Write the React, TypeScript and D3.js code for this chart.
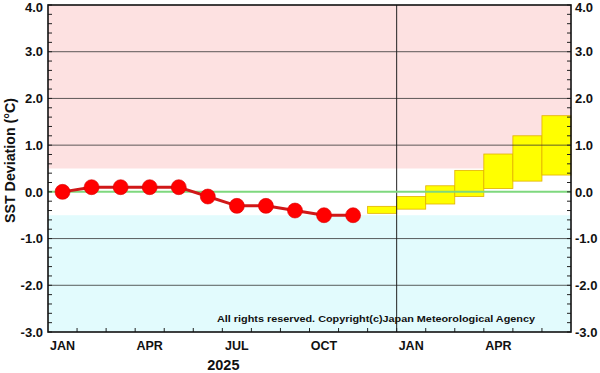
import React from 'react';
import { scaleLinear, line, range } from 'd3';

// months Jan 2025 .. Jun 2026
const monthNames = ['JAN', 'FEB', 'MAR', 'APR', 'MAY', 'JUN', 'JUL', 'AUG', 'SEP', 'OCT', 'NOV', 'DEC',
    'JAN', 'FEB', 'MAR', 'APR', 'MAY', 'JUN'];
const monthLabels = [0, 3, 6, 9, 12, 15];

// observed SST deviation (Jan..Nov 2025)
const observed = [0.0, 0.1, 0.1, 0.1, 0.1, -0.1, -0.3, -0.3, -0.4, -0.5, -0.5];

// forecast range Dec 2025 .. Jun 2026
const fcStart = 11;
const fcLow = [-0.46, -0.37, -0.26, -0.1, 0.07, 0.23, 0.36];
const fcHigh = [-0.31, -0.1, 0.13, 0.46, 0.81, 1.2, 1.63];

const yTicks = [4, 3, 2, 1, 0, -1, -2, -3];
const gridLines = [3, 2, 1, -1, -2];

const W = 600;
const H = 373;
const left = 48, right = 571, top = 5, bottom = 332;
const font = '"Liberation Sans", Arial, Helvetica, sans-serif';

export default function App() {
    const x = scaleLinear().domain([0, monthNames.length]).range([left, right]);
    const y = scaleLinear().domain([-3, 4]).range([bottom, top]);

    const obsLine = line<number>()
        .x((d, i) => x(i + 0.5))
        .y(d => y(d));

    const minor = range(-3, 4.001, 0.2).map(v => Math.round(v * 10) / 10);

    return (
        <svg width={W} height={H} style={{ position: 'absolute', left: 0, top: 0, background: '#fff' }}>
            {/* background bands */}
            <rect x={left} y={top} width={right - left} height={y(0.5) - top} fill="#fde1e1" />
            <rect x={left} y={y(-0.5)} width={right - left} height={bottom - y(-0.5)} fill="#e2fbfd" />

            {/* forecast boxes */}
            {fcLow.map((lo, i) => (
                <rect key={i}
                    x={x(fcStart + i)} width={x(1) - x(0)}
                    y={y(fcHigh[i])} height={y(lo) - y(fcHigh[i])}
                    fill="#ffff00" stroke="#e2b000" strokeWidth={0.8} />
            ))}

            {/* grid */}
            {gridLines.map(v => (
                <line key={v} x1={left} x2={right} y1={y(v)} y2={y(v)} stroke="#333" strokeWidth={0.8} />
            ))}
            <line x1={x(12)} x2={x(12)} y1={top} y2={bottom} stroke="#222" strokeWidth={1} />
            <line x1={left} x2={right} y1={y(0)} y2={y(0)} stroke="#7ed87e" strokeWidth={2} />

            {/* minor ticks */}
            {minor.map(v => (
                <g key={v}>
                    <line x1={left} x2={left + 4} y1={y(v)} y2={y(v)} stroke="#222" strokeWidth={1} />
                    <line x1={right - 4} x2={right} y1={y(v)} y2={y(v)} stroke="#222" strokeWidth={1} />
                </g>
            ))}
            {range(1, monthNames.length).map(i => (
                <line key={i} x1={x(i)} x2={x(i)} y1={bottom} y2={bottom - 4} stroke="#222" strokeWidth={1} />
            ))}

            {/* observations */}
            <path d={obsLine(observed) || ''} fill="none" stroke="#d01818" strokeWidth={3} />
            {observed.map((v, i) => (
                <circle key={i} cx={x(i + 0.5)} cy={y(v)} r={7.5} fill="#ff0000" stroke="#d80000" strokeWidth={0.6} />
            ))}

            {/* frame */}
            <rect x={left} y={top} width={right - left} height={bottom - top} fill="none" stroke="#111" strokeWidth={1.6} />

            {/* y labels */}
            {yTicks.map(v => (
                <g key={v} fontFamily={font} fontWeight="bold" fontSize={13} fill="#111">
                    <text x={left - 5} y={Math.max(y(v), top + 2)} dy="0.36em" textAnchor="end">{v.toFixed(1)}</text>
                    <text x={right + 4} y={Math.max(y(v), top + 2)} dy="0.36em" textAnchor="start">{v.toFixed(1)}</text>
                </g>
            ))}
            <text transform={`translate(15,${(top + bottom) / 2 - 8}) rotate(-90)`} textAnchor="middle"
                textLength={125} lengthAdjust="spacingAndGlyphs"
                fontFamily={font} fontWeight="bold" fontSize={14} fill="#111">
                SST Deviation (°C)
            </text>

            {/* x labels */}
            {monthLabels.map(i => (
                <text key={i} x={x(i + 0.5)} y={349.5} textAnchor="middle"
                    fontFamily={font} fontWeight="bold" fontSize={12.5} fill="#111">{monthNames[i]}</text>
            ))}
            <text x={x(6) + 1} y={370} textAnchor="middle" fontFamily={font} fontWeight="bold" fontSize={14.5} fill="#111">2025</text>

            <text x={217} y={322} textLength={318} lengthAdjust="spacingAndGlyphs"
                fontFamily={font} fontWeight="bold" fontSize={9.5} fill="#111">
                All rights reserved. Copyright(c)Japan Meteorological Agency
            </text>
        </svg>
    );
}
